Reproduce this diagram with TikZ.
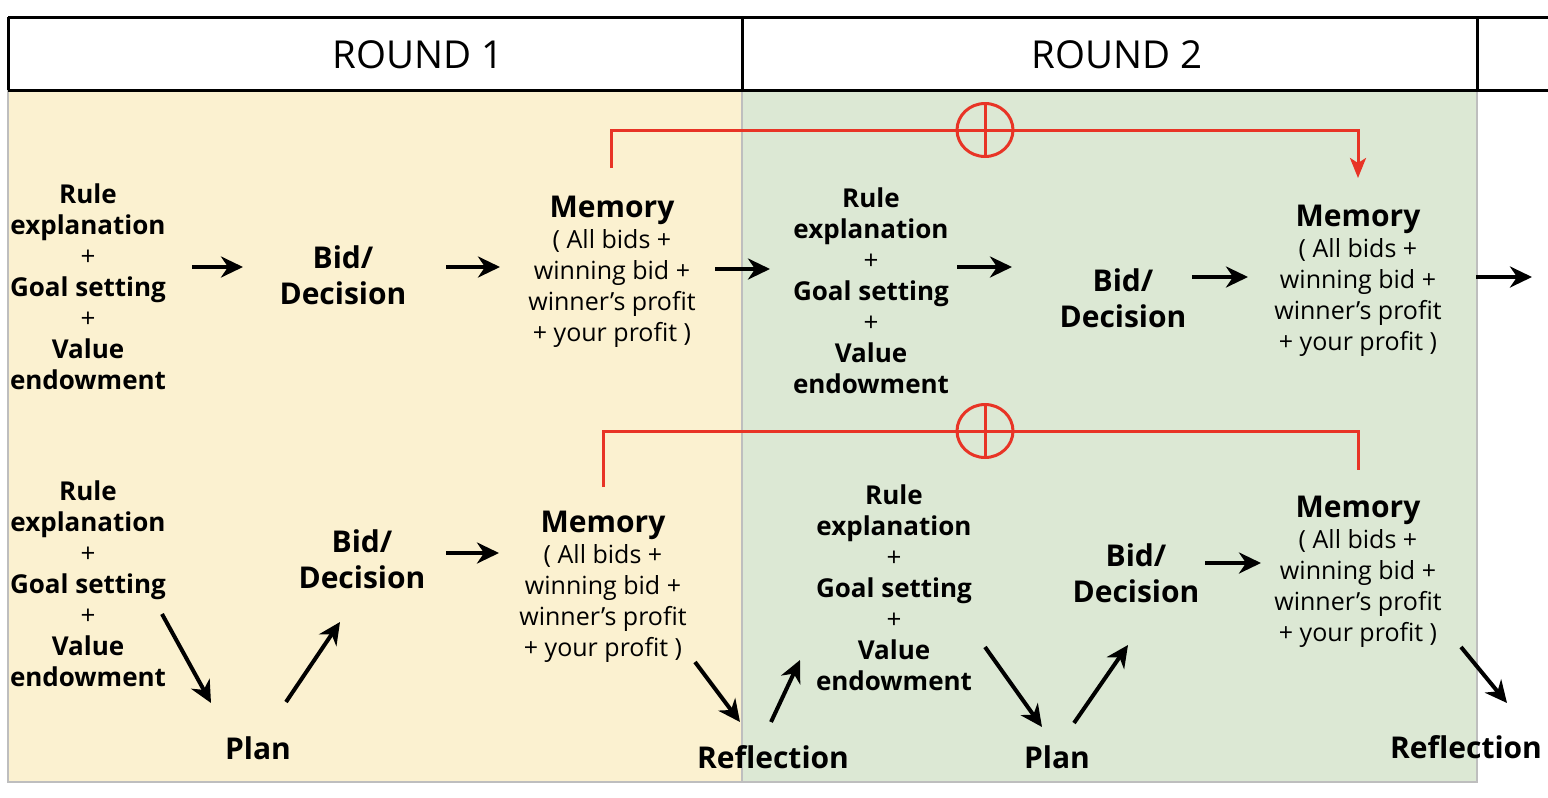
\documentclass[tikz,border=0pt]{standalone}
\usepackage{fontspec}
\setmainfont{Open Sans}
\usetikzlibrary{arrows.meta,shapes.geometric}
\definecolor{yel}{RGB}{251,241,208}
\definecolor{grn}{RGB}{220,232,212}
\definecolor{rd}{RGB}{232,52,38}
\definecolor{bord}{RGB}{190,190,190}
\begin{document}
\begin{tikzpicture}[x=1pt,y=-1pt,
 stack/.style={align=center,inner sep=0pt,font=\fontsize{26}{31}\selectfont\bfseries},
 bid/.style={align=center,inner sep=0pt,font=\fontsize{30}{36}\selectfont\bfseries},
 mem/.style={align=center,inner sep=0pt,font=\fontsize{25}{31}\selectfont},
 lbl/.style={inner sep=0pt,font=\fontsize{30}{34}\selectfont\bfseries},
 arr/.style={line width=4pt,-{Stealth[length=22pt,width=21pt,inset=7pt]}},
 redline/.style={draw=rd,line width=3pt},
 redarr/.style={draw=rd,line width=3pt,-{Stealth[length=20pt,width=16pt,inset=5pt]}},
 oplus/.style={ellipse,draw=rd,line width=3pt,minimum width=56pt,minimum height=53pt,inner sep=0pt},
 hdr/.style={font=\fontsize{38.5}{42}\selectfont,inner sep=0pt},
 hline/.style={line width=3pt}
]
\useasboundingbox (0,0) rectangle (1548,798);
% backgrounds
\fill[yel] (8,90) rectangle (742,782);
\fill[grn] (742,90) rectangle (1477,782);
\draw[bord,line width=1.5pt] (8,90) -- (8,782) -- (1477,782) -- (1477,90);
\draw[bord,line width=1.5pt] (742,90) -- (742,782);
% header
\draw[hline] (8,17) -- (1548,17);
\draw[hline] (8,90) -- (1548,90);
\draw[hline] (8,17) -- (8,90);
\draw[hline] (742,17) -- (742,90);
\draw[hline] (1477,17) -- (1477,90);
\node[hdr] (H1) at (418,55) {ROUND 1};
\node[hdr] (H2) at (1117,55) {ROUND 2};

% row 1
\node[stack] (A1) at (88,287) {Rule\\explanation\\{\mdseries +}\\Goal setting\\{\mdseries +}\\Value\\endowment};
\node[bid] (B1) at (343,275) {Bid/\\Decision};
\node[mem] (M1) at (612,272) {{\fontsize{30}{36}\selectfont\bfseries Memory}\\( All bids +\\winning bid +\\winner’s profit\\+ your profit )};
\node[stack] (A2) at (871,291) {Rule\\explanation\\{\mdseries +}\\Goal setting\\{\mdseries +}\\Value\\endowment};
\node[bid] (B2) at (1123,298) {Bid/\\Decision};
\node[mem] (M2) at (1358,281) {{\fontsize{30}{36}\selectfont\bfseries Memory}\\( All bids +\\winning bid +\\winner’s profit\\+ your profit )};
\coordinate (out1) at (1532,277);

\draw[arr] ([shift={(104,-20)}]A1.center) -- ([shift={(-100,-8)}]B1.center);
\draw[arr] ([shift={(103,-8)}]B1.center) -- ([shift={(-112,-5)}]M1.center);
\draw[arr] ([shift={(103,-3)}]M1.center) -- ([shift={(-101,-22)}]A2.center);
\draw[arr] ([shift={(86,-24)}]A2.center) -- ([shift={(-111,-31)}]B2.center);
\draw[arr] ([shift={(69,-21)}]B2.center) -- ([shift={(-110,-4)}]M2.center);
\draw[arr] ([shift={(118,-4)}]M2.center) -- (out1);

% row 2
\node[stack] (A3) at (88,584) {Rule\\explanation\\{\mdseries +}\\Goal setting\\{\mdseries +}\\Value\\endowment};
\node[lbl] (P1) at (258,748) {Plan};
\node[bid] (B3) at (362,559) {Bid/\\Decision};
\node[mem] (M3) at (603,587) {{\fontsize{30}{36}\selectfont\bfseries Memory}\\( All bids +\\winning bid +\\winner’s profit\\+ your profit )};
\node[lbl] (F1) at (773,757) {Reflection};
\node[stack] (A4) at (894,588) {Rule\\explanation\\{\mdseries +}\\Goal setting\\{\mdseries +}\\Value\\endowment};
\node[lbl] (P2) at (1057,757) {Plan};
\node[bid] (B4) at (1136,573) {Bid/\\Decision};
\node[mem] (M4) at (1358,572) {{\fontsize{30}{36}\selectfont\bfseries Memory}\\( All bids +\\winning bid +\\winner’s profit\\+ your profit )};
\node[lbl] (F2) at (1466,747) {Reflection};

\draw[arr] ([shift={(74,30)}]A3.center) -- ([shift={(-47,-45)}]P1.center);
\draw[arr] ([shift={(28,-46)}]P1.center) -- ([shift={(-22,63)}]B3.center);
\draw[arr] ([shift={(84,-6)}]B3.center) -- ([shift={(-104,-34)}]M3.center);
\draw[arr] ([shift={(92,75)}]M3.center) -- ([shift={(-33,-35)}]F1.center);
\draw[arr] ([shift={(-2,-35)}]F1.center) -- ([shift={(-94,72)}]A4.center);
\draw[arr] ([shift={(91,59)}]A4.center) -- ([shift={(-15,-30)}]P2.center);
\draw[arr] ([shift={(17,-34)}]P2.center) -- ([shift={(-8,72)}]B4.center);
\draw[arr] ([shift={(69,-10)}]B4.center) -- ([shift={(-97,-9)}]M4.center);
\draw[arr] ([shift={(103,75)}]M4.center) -- ([shift={(41,-44)}]F2.center);

% red memory links
\node[oplus] (O1) at (985,130) {};
\draw[redline] (O1.north) -- (O1.south);
\draw[redline] ([shift={(-1,-104)}]M1.center) |- (O1.west);
\draw[redline] (O1.west) -- (O1.east);
\draw[redarr] (O1.east) -| ([shift={(0,-103)}]M2.center);

\node[oplus] (O2) at (985,431) {};
\draw[redline] (O2.north) -- (O2.south);
\draw[redline] ([shift={(0,-100)}]M3.center) |- (O2.west);
\draw[redline] (O2.west) -- (O2.east);
\draw[redline] (O2.east) -| ([shift={(0,-102)}]M4.center);
\end{tikzpicture}
\end{document}
